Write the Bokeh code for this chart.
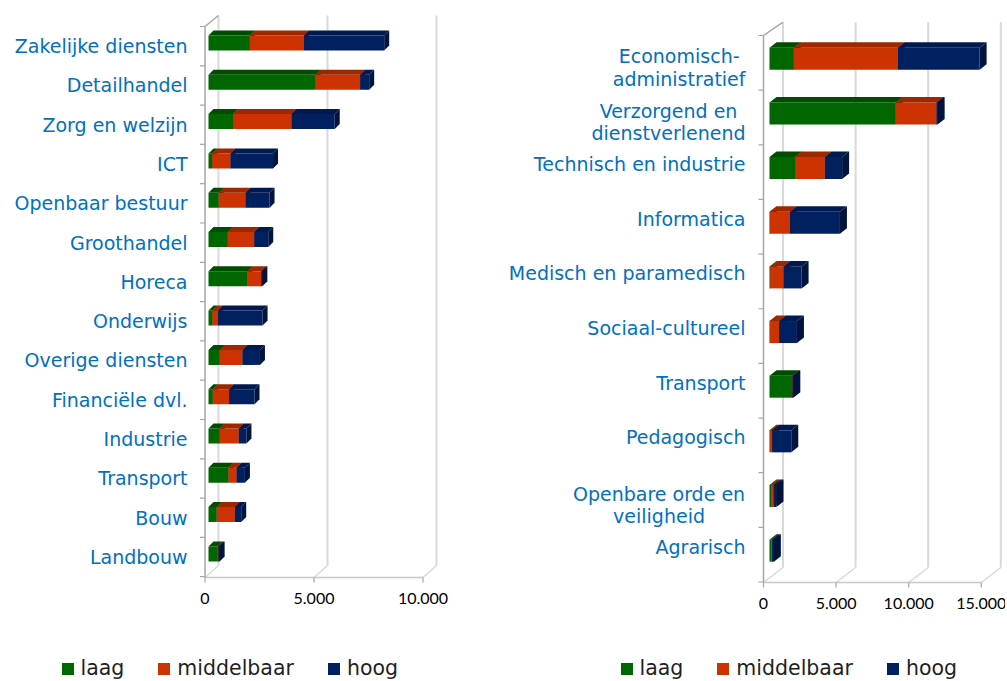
from bokeh.plotting import figure
from bokeh.layouts import row
from bokeh.models import Range1d, Legend, LegendItem
from bokeh.embed import file_html
from bokeh.resources import INLINE
from bokeh.core.properties import value

# ---------------- data ----------------
sectoren = ["Zakelijke diensten", "Detailhandel", "Zorg en welzijn", "ICT",
            "Openbaar bestuur", "Groothandel", "Horeca", "Onderwijs",
            "Overige diensten", "Financiële dvl.", "Industrie", "Transport",
            "Bouw", "Landbouw"]
sector_laag = [1900, 4920, 1130, 170, 470, 890, 1790, 180, 520, 200, 520, 920, 380, 430]
sector_middelbaar = [2480, 2040, 2680, 840, 1230, 1210, 630, 260, 1040, 750, 870, 370, 830, 30]
sector_hoog = [3680, 410, 1980, 1950, 1100, 640, 50, 2040, 800, 1160, 350, 380, 290, 50]

richtingen = ["Economisch-\nadministratief", "Verzorgend en\ndienstverlenend",
              "Technisch en industrie", "Informatica", "Medisch en paramedisch",
              "Sociaal-cultureel", "Transport", "Pedagogisch",
              "Openbare orde en\nveiligheid", "Agrarisch"]
richting_laag = [1680, 8700, 1770, 30, 50, 30, 1560, 30, 120, 150]
richting_middelbaar = [7160, 2800, 2040, 1380, 920, 640, 30, 160, 180, 30]
richting_hoog = [5630, 80, 1190, 3440, 1240, 1220, 50, 1310, 180, 120]

niveaus = ["laag", "middelbaar", "hoog"]
ticks_links = [0, 5000, 10000]
ticklabels_links = ["0", "5.000", "10.000"]
ticks_rechts = [0, 5000, 10000, 15000]
ticklabels_rechts = ["0", "5.000", "10.000", "15.000"]

# ---------------- style ----------------
FRONT = ["#006600", "#cc3300", "#002060"]
TOP = ["#004c00", "#9e2700", "#001a4f"]
SIDE = ["#003d00", "#7d1f00", "#00143d"]
LABEL_COLOR = "#0070c0"
LABEL_FONT = "DejaVu Sans"
LABEL_SIZE = 19

# approximate DejaVu Sans advance widths (per 2048 em) for centring two-line labels
_W = {" ": 651, "-": 739, "A": 1401, "E": 1294, "I": 604, "M": 1767, "O": 1612,
      "S": 1300, "T": 1251, "V": 1401, "a": 1255, "b": 1300, "c": 1126, "d": 1300,
      "e": 1260, "f": 721, "g": 1300, "h": 1298, "i": 569, "j": 569, "k": 1186,
      "l": 569, "m": 1995, "n": 1298, "o": 1253, "p": 1300, "q": 1300, "r": 842,
      "s": 1067, "t": 803, "u": 1298, "v": 1212, "y": 1212, "z": 1075}


def text_width(txt, size):
    return sum(_W.get(ch, 1250) for ch in txt) / 2048.0 * size


PAGE_TOP = 0
GL = dict(page_left=0, width=508, height=680, bar_x0=208, px_per_unit=0.0218,
          y0=42.5, step=39.3, bar_h=15, depth=(5, 5),
          fx0=204.5, bx0=218, fy_top=26, by_top=15, fy_bot=577, by_bot=565,
          label_right=187, label_dy=3, ml_dy=-2.5, line_h=22.5,
          tick_label_y=598, legend_x=59.5)
GR = dict(page_left=508, width=497, height=680, bar_x0=769, px_per_unit=0.01452,
          y0=58.3, step=54.65, bar_h=22, depth=(7, 5.5),
          fx0=763, bx0=782.5, fy_top=35, by_top=21.7, fy_bot=582, by_bot=567,
          label_right=745, label_dy=-4, ml_dy=-2.5, line_h=22.5,
          tick_label_y=603, legend_x=618.5 - 508)


def build(cats, series, ticks, ticklabels, g):
    ox, W, H, s = g["page_left"], g["width"], g["height"], g["px_per_unit"]

    def X(px):
        return (px - g["bar_x0"]) / s

    def Y(py):
        return (py - g["y0"]) / g["step"]

    p = figure(width=W, height=H, x_range=Range1d(X(ox), X(ox + W)),
               y_range=Range1d(Y(PAGE_TOP + H), Y(PAGE_TOP)), x_axis_type=None,
               y_axis_type=None, toolbar_location=None, output_backend="svg",
               min_border=0, outline_line_color=None, background_fill_color="white")

    n = len(cats)
    idx = list(range(n))
    nt = len(ticks)
    fxs = [X(g["fx0"]) + t for t in ticks]
    bxs = [X(g["bx0"]) + t for t in ticks]

    # back wall grid lines and floor diagonals
    p.segment(x0=bxs, y0=[Y(g["by_top"])] * nt, x1=bxs, y1=[Y(g["by_bot"])] * nt,
              line_color="#d9d9d9", line_width=2)
    p.segment(x0=fxs, y0=[Y(g["fy_bot"])] * nt, x1=bxs, y1=[Y(g["by_bot"])] * nt,
              line_color="#d9d9d9", line_width=1.5)
    # front floor edge
    p.segment(x0=[fxs[0]], y0=[Y(g["fy_bot"])], x1=[fxs[-1]], y1=[Y(g["fy_bot"])],
              line_color="#c8c8c8", line_width=1.5)
    # x tick marks
    p.segment(x0=fxs, y0=[Y(g["fy_bot"])] * nt, x1=fxs, y1=[Y(g["fy_bot"] + 5)] * nt,
              line_color="#a6a6a6", line_width=1.2)
    # front vertical axis + top diagonal
    p.segment(x0=[fxs[0], fxs[0]], y0=[Y(g["fy_top"]), Y(g["fy_top"])],
              x1=[fxs[0], bxs[0]], y1=[Y(g["fy_bot"]), Y(g["by_top"])],
              line_color="#a6a6a6", line_width=1.5)
    # category boundary ticks
    front_dy = g["fy_top"] - (g["y0"] - g["step"] / 2)
    by = [Y(g["y0"] + g["step"] * (i - 0.5) + front_dy) for i in range(n + 1)]
    p.segment(x0=[X(g["fx0"] - 5)] * (n + 1), y0=by, x1=[X(g["fx0"])] * (n + 1), y1=by,
              line_color="#a6a6a6", line_width=1.2)

    # 3D stacked bars
    h = g["bar_h"] / g["step"]
    ddx = g["depth"][0] / s
    ddy = g["depth"][1] / g["step"]
    left = [0] * n
    rends = []
    for k, vals in enumerate(series):
        right = [l + v for l, v in zip(left, vals)]
        r = p.hbar(y=idx, left=left, right=right, height=h,
                   fill_color=FRONT[k], line_color=None)
        p.patches([[l, rr, rr + ddx, l + ddx] for l, rr in zip(left, right)],
                  [[i - h / 2, i - h / 2, i - h / 2 - ddy, i - h / 2 - ddy] for i in idx],
                  fill_color=TOP[k], line_color=None)
        p.patches([[rr, rr, rr + ddx, rr + ddx] for rr in right],
                  [[i + h / 2, i - h / 2, i - h / 2 - ddy, i + h / 2 - ddy] for i in idx],
                  fill_color=SIDE[k], line_color=None)
        rends.append(r)
        left = right

    # category labels
    rx, ry, rt, cx, cy, ct = [], [], [], [], [], []
    for i, c in enumerate(cats):
        lines = c.split("\n")
        yc = g["y0"] + g["step"] * i
        if len(lines) == 1:
            rx.append(X(g["label_right"]))
            ry.append(Y(yc + g["label_dy"]))
            rt.append(c)
        else:
            w = max(text_width(l, LABEL_SIZE) for l in lines)
            for j, l in enumerate(lines):
                cx.append(X(g["label_right"] - w / 2))
                cy.append(Y(yc + g["ml_dy"] + j * g["line_h"]))
                ct.append(l)
    common = dict(text_font=value(LABEL_FONT), text_font_size=f"{LABEL_SIZE}px",
                  text_color=LABEL_COLOR, text_baseline="middle")
    p.text(x=rx, y=ry, text=rt, text_align="right", **common)
    if ct:
        p.text(x=cx, y=cy, text=ct, text_align="center", **common)

    # x tick labels
    p.text(x=fxs, y=[Y(g["tick_label_y"])] * nt, text=ticklabels, text_align="center",
           text_baseline="middle", text_font=value("Lato"), text_font_size="16px",
           text_color="#000000")

    legend = Legend(items=[LegendItem(label=nm, renderers=[r]) for nm, r in zip(niveaus, rends)],
                    orientation="horizontal", location=(g["legend_x"], 0),
                    glyph_width=15, glyph_height=15, label_standoff=6, spacing=32,
                    padding=0, margin=0, border_line_color=None, background_fill_alpha=0,
                    label_text_font="DejaVu Sans", label_text_font_size="20.5px",
                    label_text_color="#1f1f1f")
    p.add_layout(legend)
    return p


p1 = build(sectoren, [sector_laag, sector_middelbaar, sector_hoog],
           ticks_links, ticklabels_links, GL)
p2 = build(richtingen, [richting_laag, richting_middelbaar, richting_hoog],
           ticks_rechts, ticklabels_rechts, GR)

layout = row(p1, p2)
open("out.html", "w").write(file_html(layout, INLINE))
